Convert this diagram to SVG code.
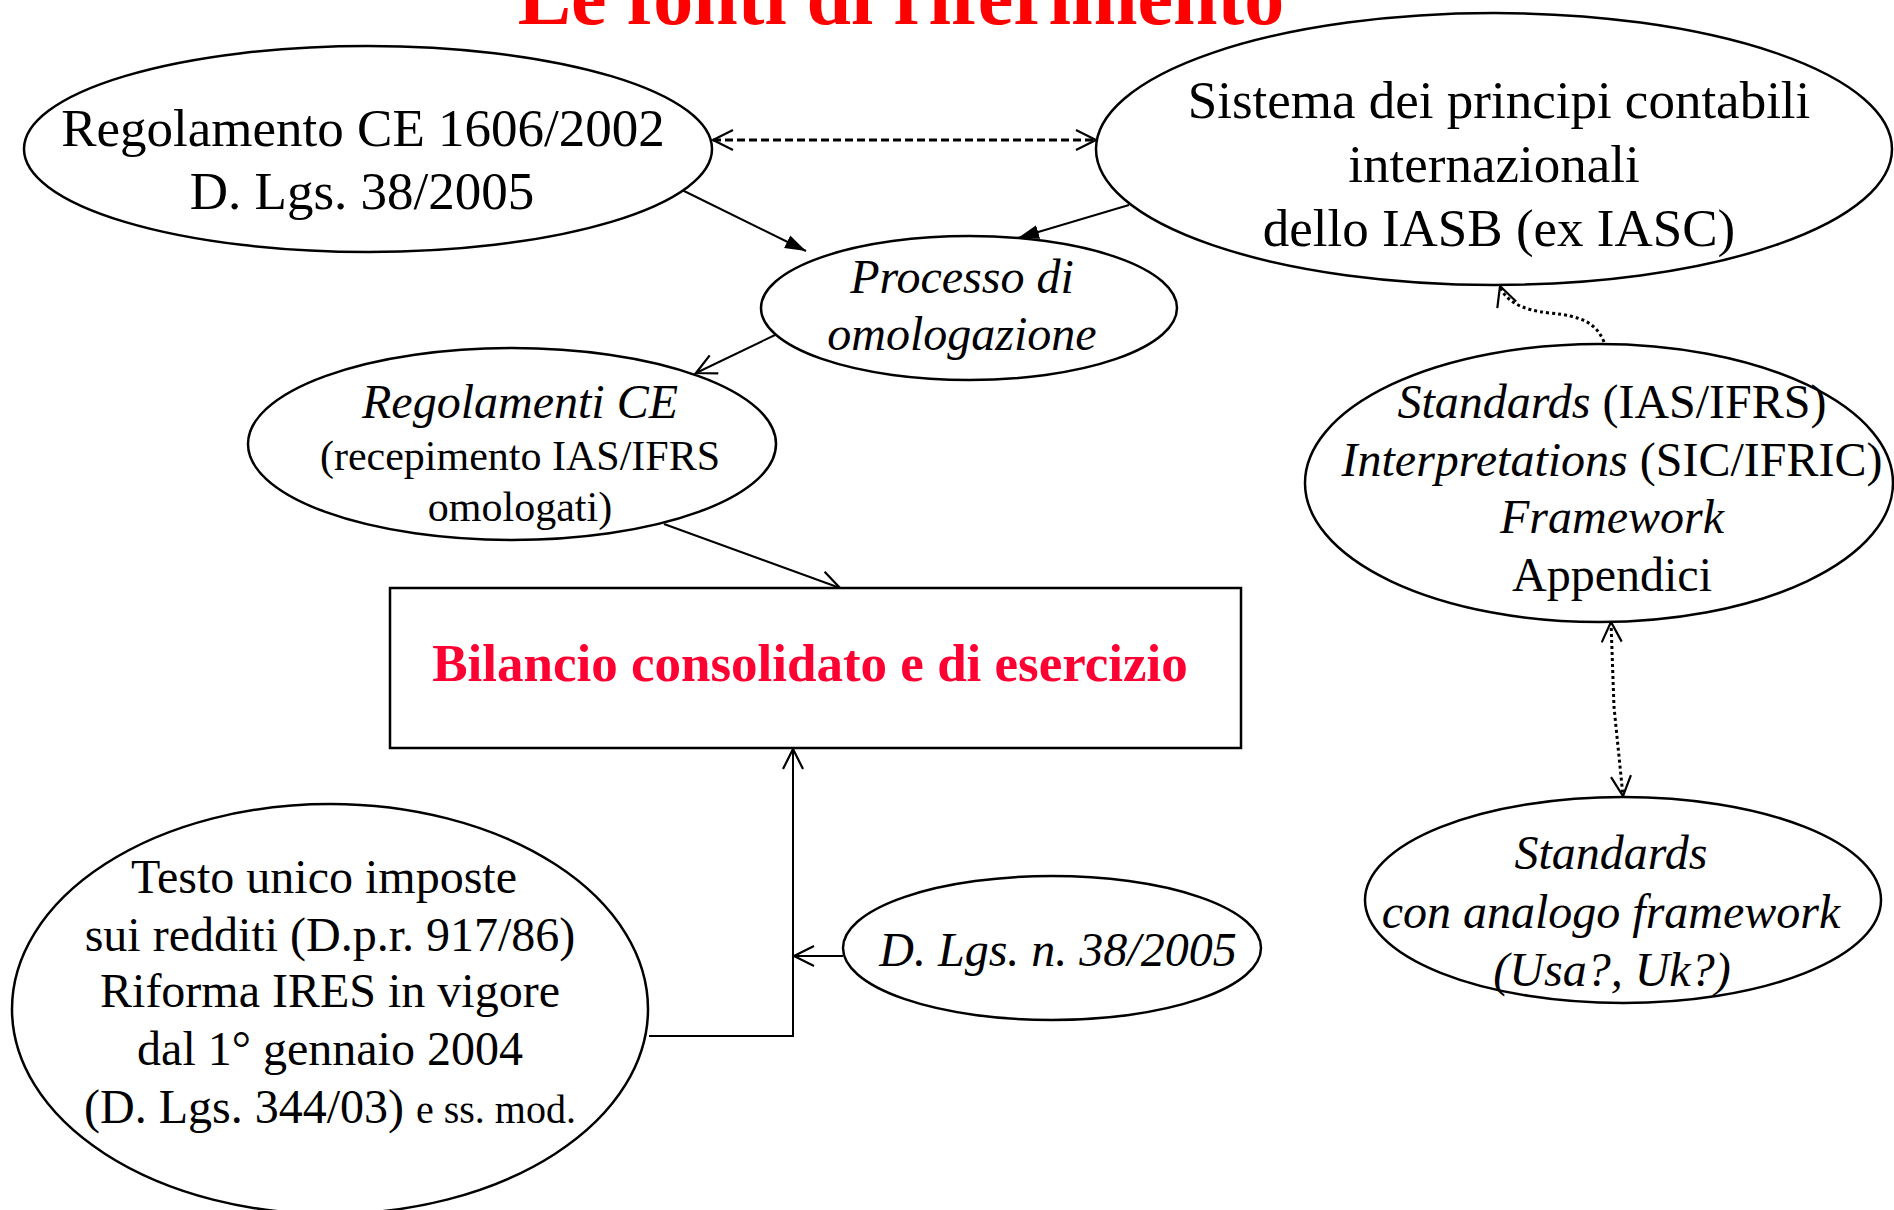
<svg xmlns="http://www.w3.org/2000/svg" width="1894" height="1210" viewBox="0 0 1894 1210">
<style>
  text { font-family: "Liberation Serif", "Times New Roman", serif; fill: #000; text-anchor: middle; }
  .n { fill: #fff; stroke: #000; stroke-width: 2.5; }
  .c { fill: none; stroke: #000; stroke-width: 2; }
  .dash { stroke-dasharray: 8 4; stroke-width: 3; }
  .dot { stroke-dasharray: 3 3; stroke-width: 3; }
  .i { font-style: italic; }
</style>
<defs>
  <marker id="open" markerUnits="userSpaceOnUse" markerWidth="24" markerHeight="24" viewBox="0 0 24 24" refX="21" refY="11" orient="auto-start-reverse">
    <path d="M1,1 L21,11 L1,21" fill="none" stroke="#000" stroke-width="2.2"/>
  </marker>
  <marker id="fill" markerUnits="userSpaceOnUse" markerWidth="22" markerHeight="16" viewBox="0 0 22 16" refX="21" refY="8" orient="auto">
    <path d="M0,1 L21,8 L0,15 z" fill="#000"/>
  </marker>
</defs>
<rect width="1894" height="1210" fill="#fff"/>

<text x="901" y="24" font-size="80" font-weight="bold" style="fill:#ff0000">Le fonti di riferimento</text>

<g id="connectors">
  <line class="c dash" x1="713" y1="140" x2="1096" y2="140" marker-start="url(#open)" marker-end="url(#open)"/>
  <line class="c" x1="682" y1="190" x2="806" y2="251" marker-end="url(#fill)"/>
  <line class="c" x1="1129" y1="205" x2="1018" y2="238" marker-end="url(#fill)"/>
  <line class="c" x1="775" y1="335" x2="696" y2="373" marker-end="url(#open)"/>
  <line class="c" x1="664" y1="524" x2="840" y2="588" marker-end="url(#open)"/>
  <path class="c dot" d="M1604,342 C1596,322 1580,316 1550,313 C1520,310 1505,300 1500,286" marker-end="url(#open)"/>
  <path class="c dot" d="M1611,622 L1614,707 L1623,796" marker-start="url(#open)" marker-end="url(#open)"/>
  <path class="c" d="M649,1036 L793,1036 L793,749" marker-end="url(#open)"/>
  <line class="c" x1="843" y1="956" x2="794" y2="956" marker-end="url(#open)"/>
</g>

<g id="node-regolamento">
  <ellipse class="n" cx="368" cy="149" rx="344" ry="103"/>
  <text x="363" y="146" font-size="53">Regolamento CE 1606/2002</text>
  <text x="362" y="209" font-size="53">D. Lgs. 38/2005</text>
</g>

<g id="node-sistema">
  <ellipse class="n" cx="1494" cy="149" rx="398" ry="136"/>
  <text x="1499" y="118" font-size="53">Sistema dei principi contabili</text>
  <text x="1494" y="182" font-size="53">internazionali</text>
  <text x="1499" y="246" font-size="53">dello IASB (ex IASC)</text>
</g>

<g id="node-processo">
  <ellipse class="n" cx="969" cy="308" rx="208" ry="72"/>
  <text class="i" x="962" y="293" font-size="48">Processo di</text>
  <text class="i" x="962" y="350" font-size="48">omologazione</text>
</g>

<g id="node-regolamenti">
  <ellipse class="n" cx="512" cy="444" rx="264" ry="96"/>
  <text class="i" x="520" y="418" font-size="48">Regolamenti CE</text>
  <text x="520" y="470" font-size="42">(recepimento IAS/IFRS</text>
  <text x="520" y="521" font-size="42">omologati)</text>
</g>

<g id="node-bilancio">
  <rect class="n" x="390" y="588" width="851" height="160"/>
  <text x="810" y="681" font-size="53" font-weight="bold" style="fill:#ff0033">Bilancio consolidato e di esercizio</text>
</g>

<g id="node-standards">
  <ellipse class="n" cx="1599" cy="483" rx="294" ry="139"/>
  <text x="1612" y="418" font-size="48"><tspan class="i">Standards</tspan> (IAS/IFRS)</text>
  <text x="1612" y="476" font-size="48"><tspan class="i">Interpretations</tspan> (SIC/IFRIC)</text>
  <text class="i" x="1612" y="533" font-size="48">Framework</text>
  <text x="1612" y="591" font-size="48">Appendici</text>
</g>

<g id="node-standards-analogo">
  <ellipse class="n" cx="1623" cy="900" rx="258" ry="103"/>
  <text class="i" x="1611" y="869" font-size="48">Standards</text>
  <text class="i" x="1611" y="928" font-size="48">con analogo framework</text>
  <text class="i" x="1612" y="986" font-size="48">(Usa?, Uk?)</text>
</g>

<g id="node-dlgs">
  <ellipse class="n" cx="1052" cy="948" rx="209" ry="72"/>
  <text class="i" x="1058" y="966" font-size="48">D. Lgs. n. 38/2005</text>
</g>

<g id="node-testo">
  <ellipse class="n" cx="330" cy="1009" rx="318" ry="205"/>
  <text x="324" y="893" font-size="48">Testo unico imposte</text>
  <text x="330" y="951" font-size="48">sui redditi (D.p.r. 917/86)</text>
  <text x="330" y="1007" font-size="48">Riforma IRES in vigore</text>
  <text x="330" y="1065" font-size="48">dal 1° gennaio 2004</text>
  <text x="330" y="1123" font-size="48">(D. Lgs. 344/03) <tspan font-size="40">e ss. mod.</tspan></text>
</g>
</svg>
